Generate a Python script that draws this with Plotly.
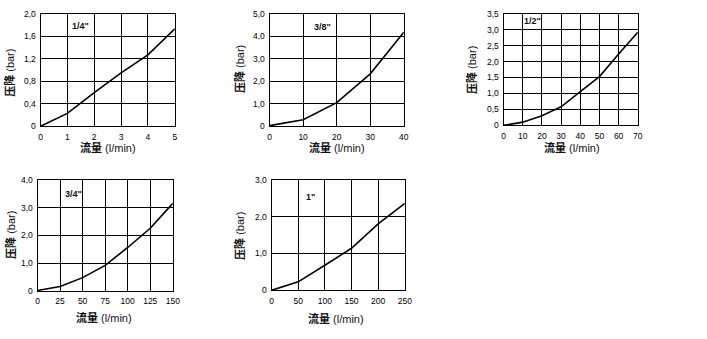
import plotly.graph_objects as go

W, H = 707, 339

# ---- data ----
labels = ['1/4"', '3/8"', '1/2"', '3/4"', '1"']
x_14 = [0, 1, 2, 3, 4, 5]
y_14 = [0, 0.23, 0.60, 0.95, 1.27, 1.73]
x_38 = [0, 10, 20, 30, 40]
y_38 = [0.03, 0.29, 1.05, 2.33, 4.18]
x_12 = [0, 10, 20, 30, 40, 50, 60, 70]
y_12 = [0, 0.10, 0.30, 0.58, 1.06, 1.53, 2.24, 2.92]
x_34 = [0, 25, 50, 75, 100, 125, 150]
y_34 = [0.03, 0.17, 0.49, 0.93, 1.57, 2.26, 3.15]
x_1 = [0, 50, 100, 150, 200, 250]
y_1 = [0, 0.23, 0.68, 1.14, 1.80, 2.36]

xt_14 = [0, 1, 2, 3, 4, 5]
yt_14 = [0, 0.4, 0.8, 1.2, 1.6, 2.0]
ytl_14 = ["0", "0,4", "0,8", "1,2", "1,6", "2,0"]
xt_38 = [0, 10, 20, 30, 40]
yt_38 = [0, 1, 2, 3, 4, 5]
ytl_38 = ["0", "1,0", "2,0", "3,0", "4,0", "5,0"]
xt_12 = [0, 10, 20, 30, 40, 50, 60, 70]
yt_12 = [0, 0.5, 1, 1.5, 2, 2.5, 3, 3.5]
ytl_12 = ["0", "0,5", "1,0", "1,5", "2,0", "2,5", "3,0", "3,5"]
xt_34 = [0, 25, 50, 75, 100, 125, 150]
yt_34 = [0, 1, 2, 3, 4]
ytl_34 = ["0", "1,0", "2,0", "3,0", "4,0"]
xt_1 = [0, 50, 100, 150, 200, 250]
yt_1 = [0, 1, 2, 3]
ytl_1 = ["0", "1,0", "2,0", "3,0"]

x_title_cn, x_title_unit = "流量", "(l/min)"
y_title_cn, y_title_unit = "压降", "(bar)"

# ---- layout (pixel boxes) ----
panels = [
    dict(x=x_14, y=y_14, xt=xt_14, yt=yt_14, ytl=ytl_14, box=(39, 175, 9, 125), lab=(1.5, 1.78),
         xtit=(107, 147), ytit=(8, 70)),
    dict(x=x_38, y=y_38, xt=xt_38, yt=yt_38, ytl=ytl_38, box=(271, 407, 9, 125), lab=(15.9, 4.4),
         xtit=(339, 147), ytit=(240, 66)),
    dict(x=x_12, y=y_12, xt=xt_12, yt=yt_12, ytl=ytl_12, box=(508, 644, 9, 124), lab=(14.9, 3.26),
         xtit=(577, 147), ytit=(475, 67)),
    dict(x=x_34, y=y_34, xt=xt_34, yt=yt_34, ytl=ytl_34, box=(36, 173, 180, 295), lab=(39.4, 3.48),
         xtit=(103, 322), ytit=(8, 237)),
    dict(x=x_1, y=y_1, xt=xt_1, yt=yt_1, ytl=ytl_1, box=(273, 408, 180, 294), lab=(74, 2.53),
         xtit=(338, 323), ytit=(241, 238)),
]

TICKFONT = dict(family="Liberation Sans, Arial", size=8.5, color="black")
TITLEFONT = dict(family="Liberation Sans, Noto Sans CJK SC", size=11, color="#111")

x_title = "<b>" + x_title_cn + "</b> " + x_title_unit
y_title = "<b>" + y_title_cn + "</b> " + y_title_unit

fig = go.Figure()
annotations = []
for i, (p, lab) in enumerate(zip(panels, labels)):
    n = "" if i == 0 else str(i + 1)
    x0, x1, y0, y1 = p["box"]
    fig.add_trace(go.Scatter(x=p["x"], y=p["y"], mode="lines",
                             line=dict(color="black", width=1.6),
                             xaxis="x" + n, yaxis="y" + n, showlegend=False,
                             hoverinfo="skip"))
    common = dict(showgrid=True, gridcolor="black", gridwidth=1, showline=True,
                  linecolor="black", linewidth=1, mirror=True, zeroline=False,
                  ticks="", tickfont=TICKFONT)
    fig.layout["xaxis" + n] = dict(domain=[x0 / W, x1 / W], anchor="y" + n,
                                   range=[p["xt"][0], p["xt"][-1]], tickvals=p["xt"],
                                   ticklabelstandoff=2, **common)
    fig.layout["yaxis" + n] = dict(domain=[1 - y1 / H, 1 - y0 / H], anchor="x" + n,
                                   range=[p["yt"][0], p["yt"][-1]], tickvals=p["yt"],
                                   ticktext=p["ytl"], ticklabelstandoff=2, **common)
    annotations.append(dict(x=p["lab"][0], y=p["lab"][1], xref="x" + n, yref="y" + n,
                            text="<b>" + lab + "</b>", showarrow=False,
                            font=dict(family="Liberation Sans, Arial", size=9, color="#111")))
    annotations.append(dict(x=p["xtit"][0] / W, y=1 - p["xtit"][1] / H, xref="paper", yref="paper",
                            text=x_title, showarrow=False,
                            xanchor="center", yanchor="middle", font=TITLEFONT))
    annotations.append(dict(x=p["ytit"][0] / W, y=1 - p["ytit"][1] / H, xref="paper", yref="paper",
                            text=y_title, showarrow=False, textangle=-90,
                            xanchor="center", yanchor="middle", font=TITLEFONT))

fig.update_layout(width=W, height=H, margin=dict(l=0, r=0, t=0, b=0),
                  plot_bgcolor="white", paper_bgcolor="white",
                  annotations=annotations)

fig.write_html("out.html")
